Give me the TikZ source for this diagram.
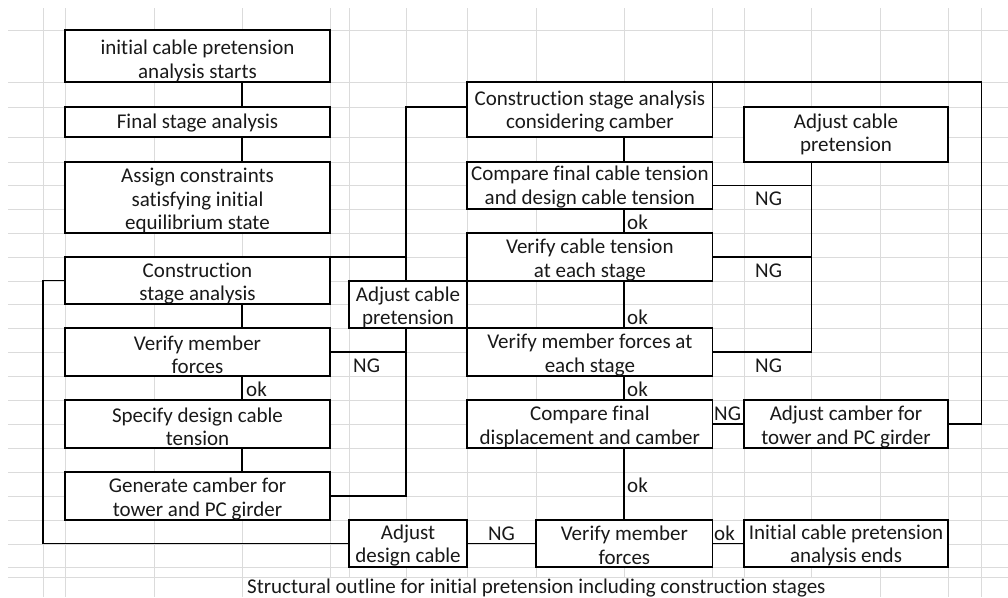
\documentclass[tikz,border=0pt]{standalone}
\usepackage{fontspec}
\setmainfont{Carlito}[Ligatures=NoCommon]
\usetikzlibrary{calc}
\newcommand{\bx}[7][3]{%
  \node[box, minimum width={#5-#3}, minimum height={#6-#4}] (#2) at ({(#3+#5)/2},{(#4+#6)/2}) {};
  \node[boxtext, yshift=-#1pt] (#2t) at (#2.center) {#7};}
\begin{document}
\begin{tikzpicture}[x=1pt,y=-1pt,
  box/.style={draw=black, fill=white, line width=1.3pt, inner sep=0pt, outer sep=0pt},
  boxtext/.style={inner sep=0pt, align=center, font=\fontsize{21}{23.5}\selectfont, text=black!90},
  lbl/.style={inner sep=0pt, anchor=base west, font=\fontsize{21}{23.5}\selectfont, text=black!90},
  conn/.style={line width=1.3pt, draw=black},
  thickconn/.style={line width=2.6pt, draw=black},
  gridline/.style={draw=black!14, line width=0.9pt}]
\useasboundingbox (0,0) rectangle (1008,597);
\fill[white] (0,0) rectangle (1008,597);
% spreadsheet grid
\foreach \y in {30,82,107,137,162,185,209,233,257,281,304,328,352,376,400,424,448,472,496,520,544,567,577}
  \draw[gridline] (8,\y) -- (1008,\y);
\foreach \x in {43,65,154,242,330,349,406,467,536,624,712.7,744,811.7,880,948,981.7}
  \draw[gridline] (\x,8) -- (\x,597);
\fill[white] (243,578) rectangle (879,597);
% helper coordinates
\coordinate (gA) at (43,0);
\coordinate (gL) at (242,0);
\coordinate (gM) at (406,0);
\coordinate (gR) at (624,0);
\coordinate (gF) at (811.7,0);
\coordinate (gO) at (981.7,0);
\coordinate (r107) at (0,107);
% boxes
\bx[5]{L1}{65}{30}{330}{82}{initial cable pretension\\analysis starts}
\bx[1]{L2}{65}{107}{330}{137}{Final stage analysis}
\bx{L3}{65}{162}{330}{233}{Assign constraints\\satisfying initial\\equilibrium state}
\bx{L4}{65}{257}{330}{304}{Construction\\stage analysis}
\bx{L5}{65}{328}{330}{376}{Verify member\\forces}
\bx{L6}{65}{400}{330}{448}{Specify design cable\\tension}
\bx{L7}{65}{472}{330}{520}{Generate camber for\\tower and PC girder}
\bx{M1}{349}{281}{467}{328}{Adjust cable\\pretension}
\bx[2]{M2}{349}{520}{467}{567}{Adjust\\design cable}
\bx[2]{R1}{467}{82}{712.7}{137}{Construction stage analysis\\considering camber}
\bx[1.5]{R2}{467}{162}{712.7}{209}{Compare final cable tension\\and design cable tension}
\bx{R3}{467}{233}{712.7}{281}{Verify cable tension\\at each stage}
\bx{R4}{467}{328}{712.7}{376}{Verify member forces at\\each stage}
\bx{R5}{467}{400}{712.7}{448}{Compare final\\displacement and camber}
\bx[2]{R6}{536}{520}{712.7}{567}{Verify member\\forces}
\bx[0]{F1}{744}{107}{948}{162}{Adjust cable\\pretension}
\bx{F2}{744}{400}{948}{448}{Adjust camber for\\tower and PC girder}
\bx[2]{F3}{744}{520}{948}{567}{Initial cable pretension\\analysis ends}
% left column connectors
\draw[thickconn] (L1.south -| gL) -- (L2.north -| gL);
\draw[thickconn] (L2.south -| gL) -- (L3.north -| gL);
\draw[thickconn] (L4.south -| gL) -- (L5.north -| gL);
\draw[thickconn] (L5.south -| gL) -- (L6.north -| gL);
\draw[thickconn] (L6.south -| gL) -- (L7.north -| gL);
% right column connectors
\draw[conn] (R1.south -| gR) -- (R2.north -| gR);
\draw[conn] (R2.south -| gR) -- (R3.north -| gR);
\draw[conn] (R3.south -| gR) -- (R4.north -| gR);
\draw[conn] (R4.south -| gR) -- (R5.north -| gR);
\draw[conn] (R5.south -| gR) -- (R6.north -| gR);
% NG loops to adjust cable pretension (right)
\draw[conn] (R2.east) -| (F1.south -| gF);
\draw[conn] (R3.east) -- (R3.east -| gF);
\draw[conn] (R4.east) -| (F1.south -| gF);
% camber loop
\draw[conn] (R5.east) -- (F2.west);
\draw[conn] (F2.east) -| (R1.north -| gO) -- (R1.north east);
% middle adjust cable pretension
\draw[conn] (R1.west |- r107) -| (M1.north -| gM);
\draw[conn] (L4.north east) -- (L4.north east -| gM);
\draw[conn] (L5.east) -| (M1.south -| gM);
\draw[conn] (L7.east) -| (M1.south -| gM);
% bottom
\draw[conn] (R6.west) -- (M2.east);
\draw[conn] (M2.west) -| (gA |- L4.west) -- (L4.west);
\draw[conn] (R6.east) -- (F3.west);
% labels
\node[lbl] (k1) at (246,396) {ok};
\node[lbl] (k2) at (627,229) {ok};
\node[lbl] (k3) at (627,324) {ok};
\node[lbl] (k4) at (627,396) {ok};
\node[lbl] (k5) at (627,492) {ok};
\node[lbl] (k6) at (714,540) {ok};
\node[lbl] (n1) at (755,205) {NG};
\node[lbl] (n2) at (755,277) {NG};
\node[lbl] (n3) at (755,372) {NG};
\node[lbl] (n4) at (714,420) {NG};
\node[lbl] (n5) at (353,372) {NG};
\node[lbl, anchor=base] (n6) at (501.5,540) {NG};
\node[lbl] (cap) at (247,593) {Structural outline for initial pretension including construction stages};
\end{tikzpicture}
\end{document}
